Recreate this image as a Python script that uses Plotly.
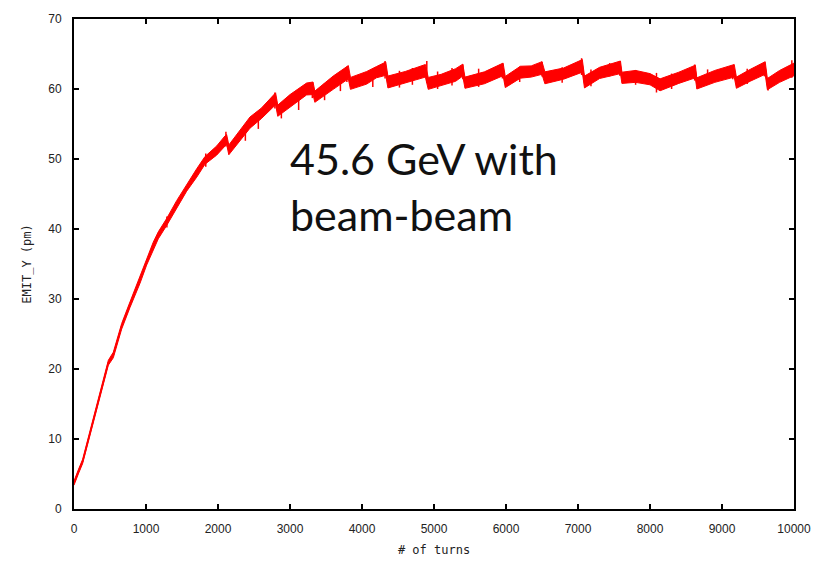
import plotly.graph_objects as go

# turns, center value of EMIT_Y (pm), and half-width of the noisy band
turns = [0, 40, 60, 120, 176, 292, 384, 477, 546, 600, 662, 778, 917, 1009, 1100,
         1171, 1287, 1426, 1565, 1704, 1819, 1981, 2097, 2120, 2150, 2306, 2444,
         2600, 2780, 2800, 2830, 3000, 3230, 3320, 3345, 3600, 3790, 3810, 3840,
         4065, 4200, 4330, 4360, 4600, 4880, 4920, 5100, 5300, 5400, 5430, 5700,
         5960, 5990, 6200, 6350, 6500, 6540, 6800, 7060, 7090, 7300, 7590, 7610,
         7800, 8000, 8140, 8400, 8630, 8650, 8900, 9170, 9200, 9400, 9600, 9630,
         9800, 10000]
emit_center = [3.7, 4.6, 5.3, 6.8, 9.0, 13.6, 17.4, 20.9, 22.0, 23.8, 26.1, 29.2,
               32.7, 35.3, 37.6, 39.1, 41.0, 43.5, 45.9, 48.0, 49.8, 51.2, 52.6,
               52.8, 51.3, 53.3, 55.2, 56.5, 58.3, 58.6, 56.9, 58.3, 60.0, 60.1,
               58.9, 60.9, 62.3, 62.4, 60.8, 61.6, 62.4, 62.9, 61.0, 61.7, 62.6,
               60.8, 61.3, 62.0, 62.7, 60.9, 61.6, 62.8, 61.0, 62.4, 62.5, 63.0,
               61.6, 62.2, 63.3, 61.0, 62.3, 63.1, 61.6, 61.8, 61.4, 60.6, 61.6,
               62.5, 60.8, 61.8, 62.6, 60.9, 62.0, 63.0, 60.7, 61.8, 62.8]
emit_spread = [0.3, 0.3, 0.3, 0.3, 0.3, 0.35, 0.35, 0.35, 0.4, 0.4, 0.4, 0.4,
               0.45, 0.45, 0.5, 0.5, 0.5, 0.55, 0.5, 0.6, 0.55, 0.65, 0.7,
               0.7, 0.7, 0.75, 0.8, 0.75, 0.85, 0.85, 0.8, 0.9, 0.85, 0.9,
               0.8, 0.95, 0.9, 0.95, 0.85, 0.9, 0.8, 0.95, 0.85, 0.8, 0.9,
               0.85, 0.8, 0.9, 0.85, 0.8, 0.85, 0.9, 0.8, 0.85, 0.8, 0.9,
               0.85, 0.8, 0.9, 0.85, 0.8, 0.9, 0.8, 0.85, 0.8, 0.85, 0.8,
               0.9, 0.8, 0.85, 0.9, 0.8, 0.85, 0.9, 0.8, 0.85, 0.9]

# individual noise spikes seen in the picture: turn, lowest and highest value
spike_turns = [1290, 1830, 2110, 2380, 2560, 2790, 2880, 3120, 3310, 3480, 3700,
               3790, 4150, 4320, 4520, 4700, 4900, 5050, 5250, 5400, 5620, 5950,
               6190, 6500, 6780, 7050, 7180, 7440, 7580, 7800, 8090, 8300, 8620,
               8800, 9150, 9350, 9590, 9640, 9970]
spike_low = [40.2, 48.9, 51.8, 52.6, 54.3, 57.2, 55.8, 57.0, 58.7, 58.4, 59.7,
             61.0, 60.3, 61.5, 60.2, 60.6, 60.9, 60.0, 60.5, 61.4, 60.3, 61.5,
             61.0, 61.8, 60.9, 62.0, 60.4, 61.8, 61.9, 60.6, 59.5, 60.0, 61.2,
             60.6, 61.4, 60.7, 61.8, 59.8, 61.6]
spike_high = [41.8, 50.8, 53.9, 55.0, 56.8, 59.5, 58.0, 59.8, 61.0, 60.8, 62.2,
              63.2, 62.8, 64.0, 62.6, 63.0, 64.0, 62.5, 63.0, 63.5, 62.9, 63.6,
              63.2, 63.9, 63.1, 64.4, 62.8, 63.7, 64.0, 62.7, 62.3, 62.2, 63.5,
              62.8, 63.3, 62.9, 63.6, 61.6, 64.1]

x_ticks = [0, 1000, 2000, 3000, 4000, 5000, 6000, 7000, 8000, 9000, 10000]
y_ticks = [0, 10, 20, 30, 40, 50, 60, 70]

emit_lo = [c - s for c, s in zip(emit_center, emit_spread)]
emit_hi = [c + s for c, s in zip(emit_center, emit_spread)]

spike_x, spike_y = [], []
for t, lo, hi in zip(spike_turns, spike_low, spike_high):
    spike_x += [t, t, None]
    spike_y += [lo, hi, None]

RED = "#ff0000"
fig = go.Figure()
fig.add_trace(go.Scatter(x=turns, y=emit_lo, mode="lines",
                         line=dict(color=RED, width=1), showlegend=False,
                         hoverinfo="skip"))
fig.add_trace(go.Scatter(x=turns, y=emit_hi, mode="lines", fill="tonexty",
                         fillcolor=RED, line=dict(color=RED, width=1),
                         showlegend=False, hoverinfo="skip"))
fig.add_trace(go.Scatter(x=turns, y=emit_center, mode="lines",
                         line=dict(color=RED, width=1.5), showlegend=False))
fig.add_trace(go.Scatter(x=spike_x, y=spike_y, mode="lines",
                         line=dict(color=RED, width=1.5), showlegend=False,
                         hoverinfo="skip"))

axis_common = dict(
    showgrid=False, zeroline=False, showline=True, linecolor="black",
    linewidth=2, mirror="ticks", ticks="inside", ticklen=5, tickwidth=2,
    tickcolor="black", tickfont=dict(family="Liberation Sans", size=12,
                                       color="#222222"),
)

fig.update_layout(
    width=829, height=567,
    margin=dict(l=74, r=35, t=14, b=49),
    paper_bgcolor="white", plot_bgcolor="white",
    xaxis=dict(range=[0, 10000], tickvals=x_ticks,
               ticktext=[str(v) for v in x_ticks], ticklabelstandoff=8,
               title=dict(text="# of turns", standoff=10,
                          font=dict(family="DejaVu Sans Mono", size=12,
                                    color="#222222")),
               **axis_common),
    yaxis=dict(range=[0, 70], tickvals=y_ticks,
               ticktext=[str(v) for v in y_ticks], ticklabelstandoff=8,
               title=dict(text="EMIT_Y (pm)", standoff=14,
                          font=dict(family="DejaVu Sans Mono", size=12,
                                    color="#222222")),
               **axis_common),
    annotations=[dict(
        x=2970, y=54.0, xref="x", yref="y", xanchor="left", yanchor="top",
        text="45.6 GeV with<br>beam-beam", showarrow=False, align="left",
        font=dict(family="Lato", size=43, color="#111111"),
    )],
)

fig.write_html("out.html")
